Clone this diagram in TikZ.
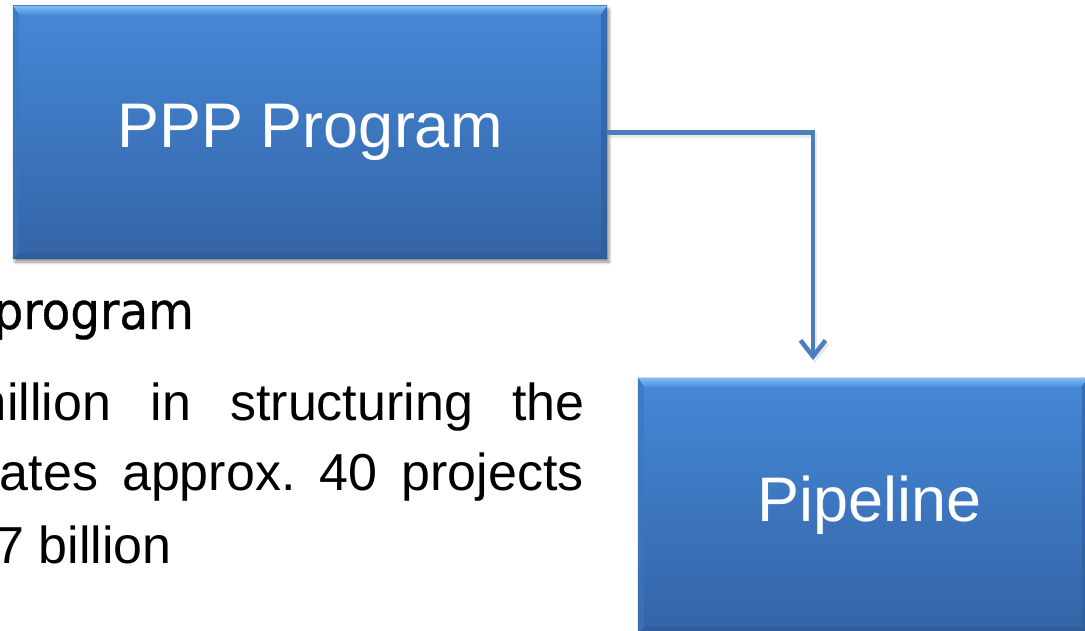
\documentclass[tikz,border=0pt]{standalone}
\usepackage{fontspec}
\setmainfont{Liberation Sans}
\newfontfamily\headfont[FakeStretch=0.92, FakeBold=0.6]{DejaVu Sans}
\usetikzlibrary{arrows.meta,calc,shadows.blur}

\definecolor{boxtop}{HTML}{4588D8}
\definecolor{boxbot}{HTML}{3464A6}
\definecolor{bevlight}{HTML}{80BDF3}
\definecolor{bevmid}{HTML}{4A8DDB}
\definecolor{bevside}{HTML}{3B76C0}
\definecolor{bevdark}{HTML}{2D5A96}
\definecolor{connblue}{HTML}{4C7EBE}

\tikzset{
  pbox/.style={rectangle, inner sep=0pt, top color=boxtop, bottom color=boxbot,
    blur shadow={shadow xshift=2pt, shadow yshift=-3pt, shadow blur radius=3pt,
      shadow blur steps=6, shadow opacity=45}},
  boxlabel/.style={text=white, font=\fontsize{63}{70}\selectfont},
  bodytxt/.style={inner sep=0pt, text=black, font=\fontsize{52}{60}\selectfont},
  headtxt/.style={inner sep=0pt, text=black, font=\headfont\fontsize{51}{60}\selectfont},
  conn/.style={draw=connblue, line width=4.5pt,
    -{Straight Barb[length=16pt, width=25pt, line width=4.5pt]}},
  connshade/.style={draw=black!25, line width=4.5pt, opacity=0.35,
    -{Straight Barb[length=16pt, width=25pt, line width=4.5pt]}}
}

% bevelled edges of a box: light top, darker sides and bottom
\newcommand\bevelbox[1]{%
  \fill[top color=bevlight, bottom color=bevmid]
    (#1.north west) -- (#1.north east) -- ($(#1.north east)+(-6,9)$)
    -- ($(#1.north west)+(6,9)$) -- cycle;
  \fill[bevside, opacity=0.6]
    (#1.north west) -- ($(#1.north west)+(6,9)$) -- ($(#1.south west)+(6,-6)$)
    -- (#1.south west) -- cycle;
  \fill[bevdark, opacity=0.55]
    (#1.north east) -- ($(#1.north east)+(-6,9)$) -- ($(#1.south east)+(-6,-6)$)
    -- (#1.south east) -- cycle;
  \fill[bevdark, opacity=0.6]
    (#1.south west) -- ($(#1.south west)+(6,-6)$) -- ($(#1.south east)+(-6,-6)$)
    -- (#1.south east) -- cycle;
}

\begin{document}
\begin{tikzpicture}[x=1pt, y=-1pt]
  \useasboundingbox (0,0) rectangle (1085,631);
  \clip (0,0) rectangle (1085,631);

  % the two boxes
  \node[pbox, minimum width=594pt, minimum height=253pt] (ppp) at (310,132.5) {};
  \bevelbox{ppp}
  \node[boxlabel] (ppplabel) at (ppp.center) {PPP Program};

  \node[pbox, minimum width=450pt, minimum height=255pt] (pipe) at (863,505.5) {};
  \bevelbox{pipe}
  \node[boxlabel] (pipelabel) at ($(pipe.center)+(7,0)$) {Pipeline};

  % elbow connector
  \coordinate (tip) at (813,360);
  \draw[connshade] ([shift={(2,3)}]ppp.east) -| ([shift={(2,3)}]tip);
  \draw[conn] (ppp.east) -| (tip);

  % text column on the left
  \node[headtxt, anchor=base east] (t1) at (194,329) {program};
  \node[bodytxt, anchor=base east] (t2) at (585,420)
    {\hbox to 621pt{million\hfill in\hfill structuring\hfill the}};
  \node[bodytxt, anchor=base east] (t3) at (584,490)
    {\hbox to 584pt{ates\hfill approx.\hfill 40\hfill projects}};
  \node[bodytxt, anchor=base east] (t4) at (172,563) {7 billion};
\end{tikzpicture}
\end{document}
